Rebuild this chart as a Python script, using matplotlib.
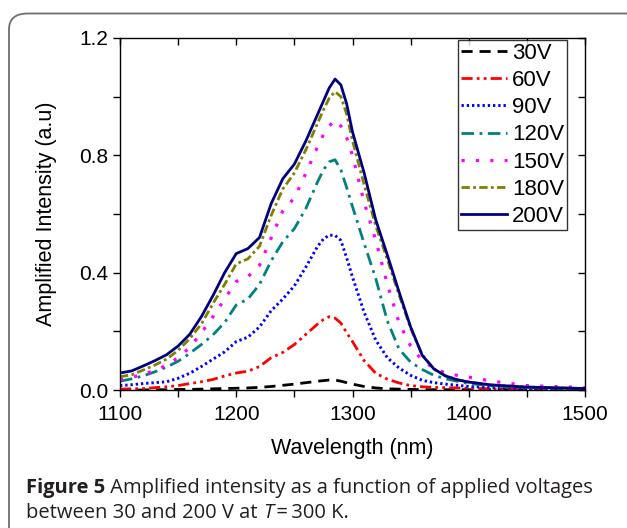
import matplotlib
matplotlib.use("Agg")
import matplotlib.pyplot as plt
from matplotlib.patches import FancyBboxPatch
from matplotlib.ticker import MultipleLocator

# wavelength grid (nm)
wl = [1100, 1110, 1120, 1130, 1140, 1150, 1160, 1170, 1180, 1190,
      1200, 1210, 1220, 1230, 1240, 1250, 1260, 1270,
      1275, 1280, 1285, 1290, 1295, 1300,
      1310, 1320, 1330, 1340, 1350, 1360, 1370, 1380, 1390, 1400,
      1420, 1450, 1500]

v30 = [0.0, 0.0, 0.0, 0.001, 0.001, 0.002, 0.002, 0.003, 0.004, 0.005,
       0.006, 0.007, 0.009, 0.012, 0.016, 0.020, 0.025, 0.030,
       0.032, 0.034, 0.034, 0.030, 0.025, 0.020,
       0.012, 0.007, 0.004, 0.003, 0.002, 0.001, 0.001, 0.001, 0.001, 0.001,
       0.001, 0.001, 0.001]
v60 = [0.003, 0.004, 0.005, 0.008, 0.011, 0.015, 0.022, 0.028, 0.036, 0.048,
       0.058, 0.064, 0.080, 0.110, 0.128, 0.155, 0.190, 0.225,
       0.240, 0.250, 0.245, 0.228, 0.195, 0.165,
       0.100, 0.057, 0.037, 0.024, 0.015, 0.011, 0.009, 0.008, 0.007, 0.006,
       0.004, 0.003, 0.002]
v90 = [0.015, 0.018, 0.022, 0.025, 0.028, 0.040, 0.057, 0.080, 0.105, 0.130,
       0.165, 0.180, 0.215, 0.270, 0.310, 0.355, 0.420, 0.490,
       0.515, 0.528, 0.527, 0.510, 0.450, 0.385,
       0.265, 0.170, 0.110, 0.075, 0.050, 0.033, 0.025, 0.020, 0.016, 0.012,
       0.008, 0.005, 0.003]
v120 = [0.030, 0.038, 0.048, 0.062, 0.078, 0.098, 0.125, 0.155, 0.188, 0.230,
        0.290, 0.310, 0.360, 0.440, 0.505, 0.550, 0.620, 0.710,
        0.750, 0.778, 0.785, 0.750, 0.690, 0.625,
        0.500, 0.380, 0.235, 0.140, 0.095, 0.070, 0.050, 0.038, 0.030, 0.022,
        0.014, 0.008, 0.005]
v150 = [0.035, 0.042, 0.055, 0.066, 0.085, 0.110, 0.145, 0.195, 0.250, 0.310,
        0.370, 0.386, 0.425, 0.518, 0.610, 0.655, 0.740, 0.830,
        0.870, 0.900, 0.920, 0.900, 0.860, 0.800,
        0.640, 0.510, 0.360, 0.230, 0.150, 0.100, 0.075, 0.058, 0.050, 0.044,
        0.030, 0.015, 0.008]
v180 = [0.045, 0.052, 0.068, 0.085, 0.105, 0.135, 0.175, 0.225, 0.295, 0.360,
        0.430, 0.447, 0.490, 0.595, 0.685, 0.740, 0.820, 0.910,
        0.955, 0.995, 1.017, 1.000, 0.940, 0.850,
        0.700, 0.560, 0.445, 0.325, 0.210, 0.120, 0.072, 0.048, 0.035, 0.027,
        0.017, 0.010, 0.005]
v200 = [0.058, 0.065, 0.082, 0.100, 0.120, 0.150, 0.190, 0.250, 0.322, 0.400,
        0.465, 0.482, 0.520, 0.635, 0.720, 0.770, 0.850, 0.940,
        0.985, 1.030, 1.060, 1.040, 0.975, 0.880,
        0.740, 0.580, 0.460, 0.335, 0.215, 0.118, 0.072, 0.048, 0.035, 0.027,
        0.017, 0.010, 0.005]

labels = ["30V", "60V", "90V", "120V", "150V", "180V", "200V"]
series = [v30, v60, v90, v120, v150, v180, v200]
colors = ["black", "#ff0000", "#0000ff", "#008080", "#ff00ff", "#808000", "#000080"]
styles = [(0, (4, 2.5)), (0, (4, 1.5, 1, 1.5, 1, 1.5)), (0, (0.8, 1.0)),
          (0, (4.5, 2, 1, 2)), (0, (1, 3.5)), (0, (3, 1.2, 1, 1.2)), "-"]
widths = [2, 2, 2.1, 2, 2.3, 2, 2]

plt.rcParams["font.family"] = ["Liberation Sans", "DejaVu Sans"]

fig = plt.figure(figsize=(6.27, 5.28), dpi=100)

# rounded outer frame, behind everything
frame = FancyBboxPatch((9 / 627, -0.1), 1.2, (528 - 13.5) / 528 + 0.1,
                       boxstyle="round,pad=0,rounding_size=0.03",
                       transform=fig.transFigure, facecolor="white",
                       edgecolor="#6e6e6e", linewidth=1.3, zorder=-10)
fig.add_artist(frame)

ax = fig.add_axes([120 / 627, 138 / 528, 465 / 627, 352 / 528])
ax.patch.set_alpha(0)
for y, lab, c, ls, lw in zip(series, labels, colors, styles, widths):
    ax.plot(wl, y, color=c, linestyle=ls, linewidth=lw, label=lab)

ax.set_xlim(1100, 1500)
ax.set_ylim(0, 1.2)
ax.xaxis.set_major_locator(MultipleLocator(100))
ax.xaxis.set_minor_locator(MultipleLocator(50))
ax.yaxis.set_major_locator(MultipleLocator(0.4))
ax.yaxis.set_minor_locator(MultipleLocator(0.2))
ax.yaxis.set_major_formatter(plt.FormatStrFormatter("%.1f"))
ax.tick_params(which="both", labelsize=15, width=1, length=5,
               top=True, right=True, direction="out")
ax.tick_params(axis="x", pad=6)
# top and right ticks point inward
for t in ax.xaxis.get_major_ticks() + ax.xaxis.get_minor_ticks():
    t.tick2line.set_marker(3)
for t in ax.yaxis.get_major_ticks() + ax.yaxis.get_minor_ticks():
    t.tick2line.set_marker(0)
for s in ax.spines.values():
    s.set_linewidth(1)

ax.set_xlabel("Wavelength (nm)", fontsize=15.5, labelpad=10)
ax.set_ylabel("Amplified Intensity (a.u)", fontsize=15.5, labelpad=16)

leg = ax.legend(loc="upper right", bbox_to_anchor=((567 - 120) / 465, 0.994),
                fontsize=16, frameon=True, fancybox=False, borderaxespad=0,
                handlelength=2.05, handletextpad=0.25, labelspacing=0.28, borderpad=0.12)
leg.get_frame().set_edgecolor("black")
leg.get_frame().set_linewidth(1)

# caption
cap = dict(fontsize=14.5, color="#231f20", family=["Open Sans", "DejaVu Sans"])
t1 = fig.text(26 / 627, 1 - 493 / 528, "Figure 5", fontweight="bold", va="baseline", **cap)
ax.annotate(" Amplified intensity as a function of applied voltages",
            xy=(1, 0), xycoords=t1, va="bottom", ha="left", annotation_clip=False, **cap)
t2 = fig.text(26 / 627, 1 - 518 / 528, "between 30 and 200 V at ", va="baseline", **cap)
t3 = ax.annotate("T", xy=(1, 0), xycoords=t2, va="bottom", ha="left",
                 style="italic", annotation_clip=False, **cap)
ax.annotate("\u2009=\u2009300 K.", xy=(1, 0), xycoords=t3, va="bottom", ha="left",
            annotation_clip=False, **cap)

fig.savefig("out.png", dpi=100)
